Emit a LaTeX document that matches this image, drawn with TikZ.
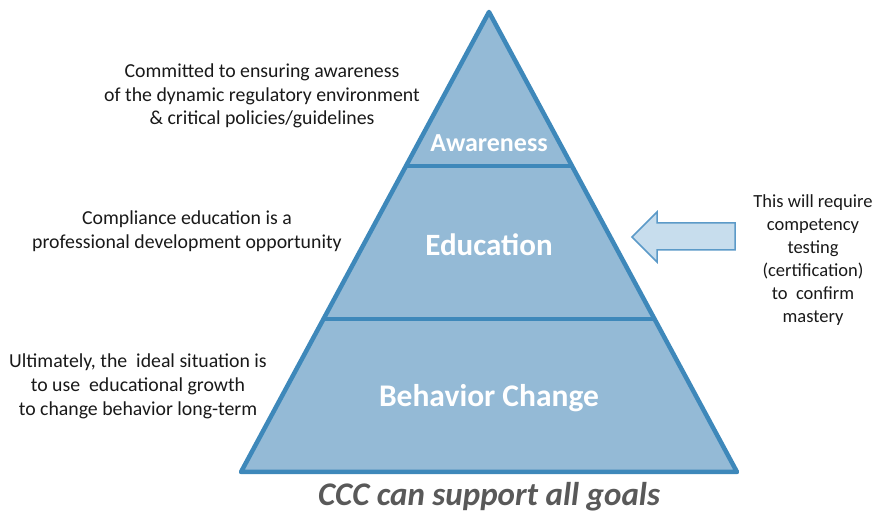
\documentclass[tikz,border=0pt]{standalone}
\usepackage{fontspec}
\setmainfont{Carlito}
\usetikzlibrary{calc}

\definecolor{pyrfill}{RGB}{148,186,214}
\definecolor{pyrline}{RGB}{62,136,186}
\definecolor{arrfill}{RGB}{199,221,237}
\definecolor{arrline}{RGB}{92,154,200}
\definecolor{capgray}{RGB}{89,89,89}

\tikzset{
  note/.style={align=center, text=black!90, font=\fontsize{19.8}{23.8}\selectfont},
  sidenote/.style={note, font=\fontsize{18.5}{23}\selectfont},
  level/.style={text=white, font=\bfseries}
}

\begin{document}
\begin{tikzpicture}[x=1pt,y=-1pt]
    \useasboundingbox (0,0) rectangle (876,518);

    % Pyramid corners
    \coordinate (apex) at (489,12);
    \coordinate (bl) at (241,472);
    \coordinate (br) at (737,472);
    \coordinate (al) at ($(apex)!0.335!(bl)$);
    \coordinate (ar) at ($(apex)!0.335!(br)$);
    \coordinate (el) at ($(apex)!0.667!(bl)$);
    \coordinate (er) at ($(apex)!0.667!(br)$);

    % Pyramid body and band lines
    \draw[line width=4.5pt, pyrline, fill=pyrfill, line join=round] (apex) -- (br) -- (bl) -- cycle;
    \draw[line width=4.5pt, pyrline] (al) -- (ar);
    \draw[line width=4.5pt, pyrline] (el) -- (er);

    % Band labels
    \node[level, font=\bfseries\fontsize{26}{30}\selectfont] (aware) at (489,143) {Awareness};
    \node[level, font=\bfseries\fontsize{31}{35}\selectfont] (educ) at (489,245) {Education};
    \node[level, font=\bfseries\fontsize{31.5}{35}\selectfont] (behav) at (489,398) {Behavior Change};

    % Caption
    \node[text=capgray, font=\bfseries\itshape\fontsize{33}{37}\selectfont] (goals) at (489,497) {CCC can support all goals};

    % Notes on the left
    \node[note] (noteaware) at (262,96) {Committed to ensuring awareness\\of the dynamic regulatory environment\\\& critical policies/guidelines};
    \node[note] (noteeduc) at (187,231.5) {Compliance education is a\\professional development opportunity};
    \node[note] (notebehav) at (138,386.5) {Ultimately, the\ \ ideal situation is\\to use\ \ educational growth\\to change behavior long-term};

    % Arrow from the right
    \draw[line width=1.5pt, arrline, fill=arrfill, line join=miter]
      (632,237) -- (657,212) -- (657,223) -- (735,223) -- (735,250) -- (657,250) -- (657,262) -- cycle;
    \node[sidenote] (notetest) at (813,260.5) {This will require\\competency\\testing\\(certification)\\to\ \ confirm\\mastery};
\end{tikzpicture}
\end{document}
